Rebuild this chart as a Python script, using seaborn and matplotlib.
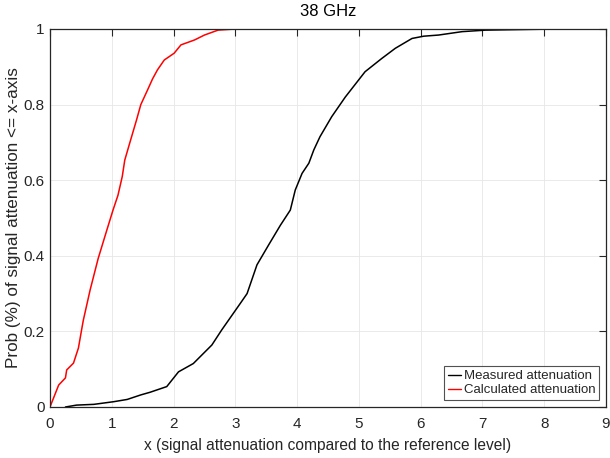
import matplotlib
matplotlib.use("Agg")
import matplotlib.pyplot as plt
import seaborn as sns
import pandas as pd

# Calculated attenuation (red) ECDF points
calc_x = [0.0, 0.14, 0.25, 0.27, 0.38, 0.46, 0.52, 0.54, 0.65, 0.78, 0.92, 1.02, 1.10, 1.17, 1.21,
          1.29, 1.40, 1.47, 1.58, 1.66, 1.74, 1.85, 2.01, 2.12, 2.34, 2.50, 2.72, 3.0]
calc_y = [0.0, 0.058, 0.077, 0.098, 0.116, 0.156, 0.212, 0.23, 0.31, 0.393, 0.468, 0.521, 0.56, 0.61, 0.653,
          0.698, 0.759, 0.80, 0.839, 0.868, 0.892, 0.918, 0.936, 0.958, 0.971, 0.984, 0.997, 1.0]

# Measured attenuation (black) ECDF points
meas_x = [0.25, 0.43, 0.71, 1.03, 1.25, 1.47, 1.62, 1.89, 2.08, 2.32, 2.62, 2.78, 3.08, 3.19, 3.35,
          3.54, 3.73, 3.89, 3.97, 4.08, 4.19, 4.27, 4.37, 4.56, 4.78, 5.10, 5.37, 5.59, 5.86, 6.05,
          6.29, 6.67, 7.05, 7.43, 8.2]
meas_y = [0.0, 0.005, 0.007, 0.014, 0.02, 0.032, 0.039, 0.054, 0.093, 0.115, 0.164, 0.204, 0.274, 0.30, 0.376,
          0.429, 0.481, 0.521, 0.574, 0.618, 0.645, 0.68, 0.715, 0.768, 0.82, 0.887, 0.922, 0.949, 0.975, 0.981,
          0.984, 0.993, 0.997, 0.998, 1.0]

series_names = ["Measured attenuation", "Calculated attenuation"]
x_ticks = [0, 1, 2, 3, 4, 5, 6, 7, 8, 9]
y_ticks = [0, 0.2, 0.4, 0.6, 0.8, 1]
y_tick_labels = ["0", "0.2", "0.4", "0.6", "0.8", "1"]

sns.set_theme(style="white")
plt.rcParams["font.family"] = ["Liberation Sans", "DejaVu Sans"]

df = pd.concat([
    pd.DataFrame({"x": meas_x, "y": meas_y, "series": series_names[0]}),
    pd.DataFrame({"x": calc_x, "y": calc_y, "series": series_names[1]}),
])

fig = plt.figure(figsize=(6.1, 4.58), dpi=100)
ax = fig.add_axes([50 / 610, 51 / 458, 556 / 610, 378 / 458])

sns.lineplot(data=df, x="x", y="y", hue="series", sort=False, estimator=None,
             palette={series_names[0]: "black", series_names[1]: "red"},
             linewidth=1.1, ax=ax, legend=True)

ax.set_xlim(0, 9)
ax.set_ylim(0, 1)
ax.set_xticks(x_ticks)
ax.set_yticks(y_ticks)
ax.set_yticklabels(y_tick_labels)
tc = "#262626"
ax.tick_params(direction="in", length=5, width=0.8, colors=tc, labelsize=11,
               top=True, right=True, labelcolor=tc)
ax.tick_params(axis="x", pad=7)
ax.tick_params(axis="y", pad=4)
ax.grid(True, color="#e6e6e6", linewidth=0.6)
for s in ax.spines.values():
    s.set_visible(True)
    s.set_color(tc)
    s.set_linewidth(0.9)

ax.set_title("38 GHz", fontsize=12, color="black", pad=9)
ax.set_xlabel("x (signal attenuation compared to the reference level)", fontsize=11.2, color=tc, labelpad=5)
ax.set_ylabel("Prob (%) of signal attenuation <= x-axis", fontsize=12.3, color=tc, labelpad=2)

leg = ax.legend(title=None, loc="lower right", fontsize=9.5, frameon=True, fancybox=False,
                handlelength=1.0, handletextpad=0.2, borderpad=0.3, labelspacing=0.15,
                borderaxespad=0.5)
leg.get_frame().set_edgecolor(tc)
leg.get_frame().set_linewidth(0.8)
for t in leg.get_texts():
    t.set_color(tc)
for l in leg.get_lines():
    l.set_linewidth(1.0)

fig.savefig("out.png", dpi=100)
